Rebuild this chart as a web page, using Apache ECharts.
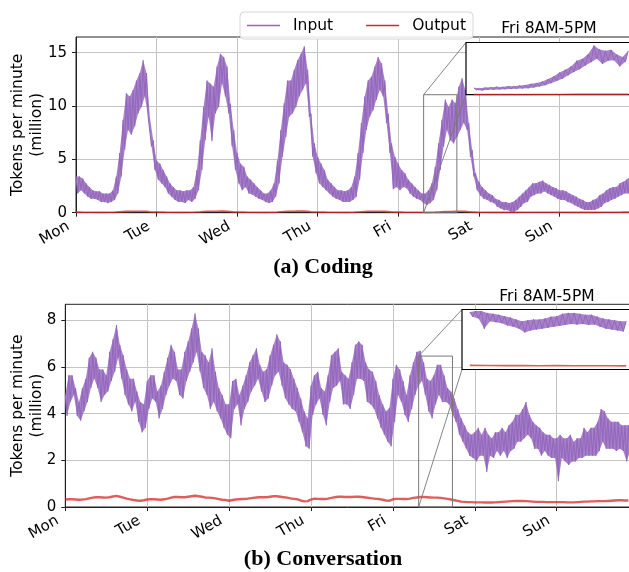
<!DOCTYPE html>
<html><head><meta charset="utf-8">
<script src="https://cdn.jsdelivr.net/npm/echarts@6/dist/echarts.min.js"></script>
<style>html,body{margin:0;padding:0;background:#fff}#c{width:629px;height:572px}</style>
</head><body><div id="c"></div>
<script>
// ---------- DATA ----------
const dayLabels = ['Mon','Tue','Wed','Thu','Fri','Sat','Sun'];
const dayTicks = [0,24,48,72,96,120,144];
const codingYTicks = [0,5,10,15];
const convYTicks = [0,2,4,6,8];
const insetTitle = 'Fri 8AM-5PM';
const insetDay = 4;            // Friday
const insetHours = [8, 17];    // 8AM-5PM

// Coding, input tokens (million/min), hourly upper / lower envelope of the noisy band, Mon 0h .. Sun 21h
const codingInHi = [
 3.4,3.4,3.2,2.75,2.4,2.1,2.0,2.0,1.8,1.8,1.8,2.1,3.4,5.6,8.7,11.2,10.9,11.5,12.4,13.1,14.3,13.1,9.0,6.8,
 4.9,4.6,4.0,3.4,2.75,2.4,2.1,2.1,2.0,2.1,2.1,2.4,4.0,6.8,9.9,12.4,12.1,11.8,13.7,14.9,14.6,13.7,10.2,7.75,
 5.6,4.6,4.3,3.4,3.1,2.75,2.4,2.1,1.8,1.8,2.1,2.75,4.9,7.75,10.25,12.4,12.4,13.4,14.3,14.9,15.6,13.4,9.3,6.5,
 5.25,4.6,4.0,3.1,2.75,2.4,2.1,2.1,2.0,2.1,2.4,3.4,5.6,8.4,10.9,12.4,12.75,13.7,14.6,14.0,12.4,9.3,6.5,5.25,
 4.6,4.0,3.7,3.1,2.75,2.4,2.1,1.8,1.8,2.1,2.75,4.3,6.5,8.7,10.6,9.9,10.6,10.25,11.8,12.6,11.5,8.4,5.9,3.7,
 2.9,2.4,2.1,1.8,1.65,1.3,1.2,1.0,1.0,0.9,1.0,1.2,1.5,1.8,2.1,2.4,2.75,2.75,2.9,3.0,2.75,2.6,2.4,2.3,
 2.1,2.1,2.0,1.8,1.65,1.5,1.3,1.2,1.0,1.0,1.2,1.3,1.65,1.8,2.1,2.3,2.4,2.4,2.75,2.9,3.1,3.4];
const codingInLo = [
 1.8,2.1,1.8,1.5,1.3,1.3,1.2,1.0,1.0,0.9,1.0,1.2,1.8,3.4,5.9,7.75,7.3,8.1,9.3,9.9,10.9,9.0,6.2,4.0,
 3.1,2.75,2.4,1.8,1.5,1.2,1.0,1.0,0.9,1.2,1.0,1.3,2.1,4.0,6.8,9.0,6.7,9.3,9.9,12.1,10.9,9.3,6.2,4.0,
 2.75,2.1,2.4,1.8,1.7,1.5,1.3,1.2,1.0,0.9,1.0,1.5,2.75,5.25,7.1,9.0,9.3,9.9,10.9,11.5,12.1,9.0,5.25,3.7,
 2.75,2.4,2.1,1.8,1.5,1.3,1.2,1.0,1.0,1.0,1.2,1.5,3.1,5.6,7.75,9.0,9.6,10.6,11.5,10.9,8.4,5.6,2.2,2.4,
 2.1,2.4,2.3,1.8,1.5,1.3,1.2,0.9,0.7,0.9,1.2,2.1,4.0,6.2,7.75,6.8,6.5,7.1,7.75,8.4,7.75,5.25,3.4,2.1,
 1.6,1.3,1.2,1.0,0.9,0.55,0.4,0.25,0.25,0.1,0.1,0.25,0.55,0.9,1.0,1.5,1.65,1.8,1.8,2.0,1.8,1.65,1.5,1.3,
 1.2,1.2,1.0,0.9,0.7,0.55,0.4,0.25,0.25,0.25,0.25,0.4,0.55,0.9,1.0,1.2,1.3,1.5,1.65,1.8,1.8,2.1];
// Coding, output tokens, hourly
const codingOut = [
 0.05,0.05,0.04,0.04,0.04,0.04,0.03,0.03,0.03,0.03,0.04,0.04,0.06,0.08,0.10,0.12,0.12,0.13,0.14,0.14,0.14,0.12,0.09,0.07,
 0.06,0.05,0.05,0.04,0.04,0.04,0.03,0.03,0.03,0.03,0.04,0.04,0.06,0.08,0.11,0.13,0.13,0.13,0.14,0.15,0.15,0.13,0.10,0.07,
 0.06,0.05,0.05,0.04,0.04,0.04,0.03,0.03,0.03,0.03,0.04,0.04,0.06,0.09,0.11,0.13,0.13,0.14,0.15,0.15,0.15,0.13,0.09,0.07,
 0.06,0.05,0.05,0.04,0.04,0.04,0.03,0.03,0.03,0.03,0.04,0.05,0.07,0.09,0.11,0.13,0.13,0.14,0.14,0.14,0.12,0.10,0.07,0.06,
 0.05,0.05,0.04,0.04,0.04,0.04,0.03,0.03,0.03,0.03,0.04,0.05,0.07,0.09,0.11,0.11,0.11,0.12,0.13,0.13,0.12,0.09,0.06,0.05,
 0.04,0.04,0.04,0.03,0.03,0.03,0.03,0.03,0.03,0.03,0.03,0.03,0.03,0.04,0.04,0.04,0.04,0.04,0.04,0.04,0.04,0.04,0.04,0.04,
 0.04,0.04,0.03,0.03,0.03,0.03,0.03,0.03,0.03,0.03,0.03,0.03,0.03,0.04,0.04,0.04,0.04,0.04,0.04,0.05,0.05,0.05];
// Conversation, input tokens, hourly upper / lower envelope
const convInHi = [
 4.8,5.65,5.65,5.1,4.5,5.1,5.5,6.4,6.65,6.4,5.9,5.9,5.65,6.65,7.2,7.8,6.95,6.5,5.9,5.5,5.5,4.95,4.5,4.4,
 5.4,5.65,5.65,4.95,5.2,5.8,6.4,6.95,6.65,5.9,5.9,6.65,7.1,7.65,8.3,7.65,6.65,6.5,6.2,6.8,5.8,5.1,4.8,4.4,
 4.4,5.4,5.5,4.8,5.2,5.65,6.2,6.5,6.8,6.1,5.8,5.9,6.5,6.95,7.4,7.1,6.2,6.1,5.9,5.5,5.1,4.65,4.1,3.8,
 5.2,5.65,5.8,5.1,4.95,5.65,6.5,6.65,6.8,5.8,5.65,5.5,6.2,6.95,7.1,6.95,6.2,5.9,5.8,5.4,4.8,4.4,4.1,4.25,
 5.5,6.1,5.9,5.4,4.8,5.65,6.2,6.65,6.7,6.2,5.5,5.4,5.65,6.1,6.1,5.65,5.1,4.95,4.65,4.2,3.8,3.5,3.2,3.1,
 3.2,3.4,3.1,3.4,3.1,2.95,3.2,3.2,3.4,3.2,3.5,3.65,3.95,3.95,4.2,4.5,3.95,3.65,3.5,3.4,3.2,3.1,3.1,2.95,
 2.95,3.1,2.95,2.95,3.1,2.8,2.95,2.95,3.4,3.2,3.4,3.4,3.65,4.2,4.1,3.8,3.65,3.65,3.65,3.5,3.5,3.5];
const convInLo = [
 3.9,4.5,4.8,3.9,3.7,4.1,4.5,5.1,5.5,5.1,4.5,4.8,4.95,5.4,5.8,6.4,5.5,4.8,4.4,4.1,4.5,3.65,3.2,3.4,
 4.2,4.65,4.5,3.8,4.2,4.8,5.2,5.5,5.4,4.8,4.65,5.4,5.8,6.2,6.65,5.8,5.1,4.8,4.2,4.5,4.1,3.8,3.4,3.1,
 2.95,4.2,4.4,3.5,4.2,4.5,4.95,5.2,5.5,4.95,4.5,4.65,5.2,5.65,5.8,5.2,4.65,4.4,4.2,4.1,3.65,3.2,2.6,2.5,
 3.95,4.4,4.65,3.95,3.5,4.5,5.1,5.2,5.4,4.4,4.4,4.2,4.8,5.5,5.5,5.4,4.5,4.4,4.2,3.8,3.4,3.1,2.8,2.6,
 3.65,4.8,4.5,3.95,3.65,4.2,4.8,5.2,5.4,4.8,4.1,3.8,4.4,4.8,4.5,4.5,4.4,3.95,3.65,3.1,2.8,2.5,2.2,2.1,
 1.95,2.2,2.2,1.5,2.2,2.1,2.4,2.2,2.4,2.1,2.4,2.5,2.8,2.8,2.95,3.1,2.95,2.5,2.5,2.2,2.4,2.2,2.1,2.1,
 1.1,2.1,1.95,1.8,1.95,1.95,2.1,2.1,2.2,2.2,2.2,2.2,2.4,2.8,2.5,2.5,2.5,2.4,2.5,2.4,1.95,2.4];
// Conversation, output tokens, hourly
const convOut = [
 0.32,0.33,0.33,0.32,0.31,0.32,0.34,0.37,0.40,0.42,0.42,0.41,0.40,0.42,0.45,0.48,0.44,0.40,0.36,0.33,0.30,0.28,0.27,0.29,
 0.32,0.33,0.33,0.32,0.31,0.33,0.36,0.40,0.43,0.43,0.42,0.42,0.44,0.46,0.48,0.46,0.44,0.41,0.40,0.39,0.37,0.34,0.31,0.30,
 0.27,0.30,0.32,0.33,0.34,0.35,0.37,0.39,0.41,0.42,0.42,0.42,0.44,0.46,0.46,0.44,0.42,0.40,0.37,0.35,0.33,0.28,0.24,0.25,
 0.32,0.36,0.35,0.34,0.34,0.36,0.39,0.42,0.44,0.44,0.43,0.43,0.43,0.44,0.44,0.43,0.41,0.39,0.37,0.35,0.34,0.31,0.28,0.27,
 0.33,0.35,0.35,0.34,0.34,0.36,0.39,0.41,0.43,0.43,0.42,0.41,0.40,0.40,0.39,0.37,0.35,0.32,0.29,0.26,0.23,0.22,0.21,0.21,
 0.20,0.20,0.20,0.19,0.19,0.19,0.20,0.21,0.22,0.23,0.24,0.25,0.26,0.26,0.26,0.25,0.24,0.23,0.22,0.22,0.22,0.21,0.21,0.21,
 0.21,0.21,0.21,0.20,0.20,0.20,0.21,0.22,0.23,0.23,0.24,0.24,0.25,0.25,0.25,0.26,0.27,0.28,0.29,0.29,0.28,0.28];
// Insets: Friday 8:00-17:00, upper / lower envelope every 20 minutes
const codingInsetHi = [1.45,1.35,1.5,1.6,1.7,1.65,1.85,1.8,1.95,2.05,2.3,2.5,2.8,3.3,3.9,4.7,5.3,6.0,7.2,7.6,8.6,10.4,9.6,9.3,9.5,8.5,8.0,9.3];
const codingInsetLo = [1.0,0.9,1.05,1.05,1.1,1.15,1.2,1.25,1.3,1.35,1.5,1.75,2.0,2.45,2.9,3.4,4.1,4.8,5.4,6.2,6.9,7.6,6.5,7.2,7.3,6.0,7.0];
const codingInsetOut = [0.05,0.05,0.05,0.05,0.06,0.07,0.08,0.09,0.09,0.10];
const convInsetHi = [6.2,6.3,6.3,6.1,6.0,5.9,5.75,5.6,5.4,5.2,5.3,5.4,5.4,5.5,5.7,5.75,6.0,6.1,6.1,6.0,5.9,5.9,5.7,5.5,5.4,5.3,5.2,5.2];
const convInsetLo = [5.7,5.5,4.4,5.2,5.1,5.0,4.75,4.6,4.4,4.0,4.2,4.3,4.4,4.5,4.6,4.7,4.8,4.9,4.85,4.9,4.8,4.85,4.6,4.4,4.3,4.2,4.1];
const convInsetOut = [0.44,0.43,0.42,0.42,0.41,0.42,0.41,0.40,0.40,0.39];
const codingInsetYMax = 11.06, convInsetYMax = 6.47;
const codingYMax = 16.47, convYMax = 8.69;

// ---------- BUILD ----------
const PURPLE = '#9467bd', RED = '#d62728';
const FONT = 'DejaVu Sans';
function zig(hi, lo, start, step) {
  const o = [];
  for (let i = 0; i < hi.length; i++) { o.push([start + i * step, hi[i]]); if (i < lo.length) o.push([start + (i + 0.5) * step, lo[i]]); }
  return o;
}
function hourly(v, start) { return v.map((y, i) => [start + i, y]); }
const pad = (insetHours[1] - insetHours[0]) * 0.05;
const inMin = insetHours[0] - pad, inMax = insetHours[1] + pad;

// filled band polygon between upper / lower envelopes, placed with the axis scales (api.coord)
function bandFill(idx, hi, lo, start, step, z) {
  return { type: 'custom', xAxisIndex: idx, yAxisIndex: idx, z: z, silent: true, clip: true, animation: false,
    data: [[start, 0]],
    renderItem: function (params, api) {
      const pts = [];
      for (let i = 0; i < hi.length; i++) pts.push(api.coord([start + i * step, hi[i]]));
      for (let i = lo.length - 1; i >= 0; i--) pts.push(api.coord([start + (i + 0.5) * step, lo[i]]));
      return { type: 'polygon', shape: { points: pts }, style: { fill: PURPLE, opacity: 0.82 } };
    } };
}

const gridLine = { show: true, lineStyle: { color: '#c4c4c4', width: 1 } };
function mainX(grid) {
  return { type: 'value', gridIndex: grid, min: 0, max: 168, interval: 24,
    axisLine: { show: true, lineStyle: { color: '#222', width: 1 } },
    axisTick: { show: true, length: 4, lineStyle: { color: '#222' } },
    axisLabel: { rotate: 30, margin: 8, fontSize: 15, color: '#000', fontFamily: FONT, padding: [0, 9, 0, 0],
      customValues: dayTicks, formatter: v => dayLabels[Math.round(v / 24)] || '' },
    splitLine: gridLine };
}
function mainY(grid, max, iv, ticks, gap) {
  return { type: 'value', gridIndex: grid, min: 0, max: max, interval: iv,
    name: 'Tokens per minute\n(million)', nameLocation: 'middle', nameRotate: 90, nameGap: gap, nameMoveOverlap: false,
    nameTextStyle: { fontSize: 15.5, color: '#000', fontFamily: FONT, lineHeight: 18.5, align: 'center' },
    axisLine: { show: true, lineStyle: { color: '#222', width: 1 } },
    axisTick: { show: true, length: 4, customValues: ticks, lineStyle: { color: '#222' } },
    axisLabel: { margin: 9, fontSize: 15, color: '#000', fontFamily: FONT, customValues: ticks },
    splitLine: gridLine };
}
function insetX(grid) { return { type: 'value', gridIndex: grid, min: inMin, max: inMax, show: false, splitLine: { show: false } }; }
function insetY(grid, max) { return { type: 'value', gridIndex: grid, min: 0, max: max, show: false, splitLine: { show: false } }; }
function line(name, idx, data, color, w, z, op) {
  return { type: 'line', name: name, xAxisIndex: idx, yAxisIndex: idx, data: data, symbol: 'none', z: z,
    color: color, itemStyle: { color: color }, lineStyle: { color: color, width: w, opacity: op, join: 'bevel' },
    animation: false, silent: true };
}
const titleStyle = { fontSize: 15.5, fontWeight: 'normal', fontFamily: FONT, color: '#000' };
const capStyle = { fontSize: 22, fontWeight: 'bold', fontFamily: 'Liberation Serif', color: '#000' };
const gridBase = { show: true, outerBoundsMode: 'none', containLabel: false };

const option = {
  backgroundColor: '#fff',
  animation: false,
  title: [
    { text: insetTitle, left: 549, top: 21, textAlign: 'center', padding: 0, textStyle: titleStyle },
    { text: insetTitle, left: 547, top: 289, textAlign: 'center', padding: 0, textStyle: titleStyle },
    { text: '(a) Coding', left: 323, top: 256, textAlign: 'center', padding: 0, textStyle: capStyle },
    { text: '(b) Conversation', left: 323, top: 548, textAlign: 'center', padding: 0, textStyle: capStyle }
  ],
  legend: { data: ['Input', 'Output'], left: 240, top: 12, icon: 'rect', itemWidth: 33, itemHeight: 1.6,
    itemGap: 33, padding: [4, 7, 4, 7], borderColor: '#d6d6d6', borderWidth: 1, borderRadius: 4,
    backgroundColor: 'rgba(255,255,255,0.85)', z: 20,
    textStyle: { fontSize: 15.5, color: '#000', fontFamily: FONT, padding: [0, 0, 0, 8], lineHeight: 19 } },
  grid: [
    Object.assign({ left: 76, top: 37, width: 564, height: 175.7, borderColor: '#222', borderWidth: 1, backgroundColor: 'transparent' }, gridBase),
    Object.assign({ left: 466, top: 42.5, width: 170, height: 52.2, borderColor: '#000', borderWidth: 1.2, backgroundColor: '#fff', z: 10 }, gridBase),
    Object.assign({ left: 65.3, top: 304.3, width: 573.3, height: 202.7, borderColor: '#222', borderWidth: 1, backgroundColor: 'transparent' }, gridBase),
    Object.assign({ left: 462, top: 309.5, width: 172, height: 60, borderColor: '#000', borderWidth: 1.2, backgroundColor: '#fff', z: 10 }, gridBase)
  ],
  xAxis: [mainX(0), insetX(1), mainX(2), insetX(3)],
  yAxis: [mainY(0, codingYMax, 5, codingYTicks, 30), insetY(1, codingInsetYMax),
          mainY(2, convYMax, 2, convYTicks, 19.5), insetY(3, convInsetYMax)],
  series: [
    bandFill(0, codingInHi, codingInLo, 0, 1, 2),
    line('Input', 0, zig(codingInHi, codingInLo, 0, 1), PURPLE, 1.1, 2, 1),
    line('Output', 0, hourly(codingOut, 0), RED, 1.6, 3, 0.8),
    bandFill(1, codingInsetHi, codingInsetLo, insetHours[0], 1 / 3, 12),
    line('Input', 1, zig(codingInsetHi, codingInsetLo, insetHours[0], 1 / 3), PURPLE, 1, 12, 1),
    line('Output', 1, hourly(codingInsetOut, insetHours[0]), RED, 1.4, 13, 0.8),
    bandFill(2, convInHi, convInLo, 0, 1, 2),
    line('Input', 2, zig(convInHi, convInLo, 0, 1), PURPLE, 1.1, 2, 1),
    line('Output', 2, hourly(convOut, 0), RED, 2.4, 3, 0.75),
    bandFill(3, convInsetHi, convInsetLo, insetHours[0], 1 / 3, 12),
    line('Input', 3, zig(convInsetHi, convInsetLo, insetHours[0], 1 / 3), PURPLE, 1, 12, 1),
    line('Output', 3, hourly(convInsetOut, insetHours[0]), RED, 1.6, 13, 0.75)
  ]
};
const chart = echarts.init(document.getElementById('c'), null, { renderer: 'canvas' });
chart.setOption(option);

// mark_inset: source rectangle + connectors, positioned through the axes
function insetMarks(mainIdx, insIdx, yMax) {
  const m = { xAxisIndex: mainIdx, yAxisIndex: mainIdx }, s = { xAxisIndex: insIdx, yAxisIndex: insIdx };
  const a = chart.convertToPixel(m, [insetDay * 24 + inMin, yMax]);
  const b = chart.convertToPixel(m, [insetDay * 24 + inMax, 0]);
  const c = chart.convertToPixel(s, [inMin, yMax]);
  const d = chart.convertToPixel(s, [inMin, 0]);
  const st = { stroke: '#777', lineWidth: 1, fill: null };
  return [
    { type: 'rect', z: 8, silent: true, shape: { x: a[0], y: a[1], width: b[0] - a[0], height: b[1] - a[1] }, style: st },
    { type: 'line', z: 8, silent: true, shape: { x1: a[0], y1: a[1], x2: c[0], y2: c[1] }, style: { stroke: '#777', lineWidth: 0.9 } },
    { type: 'line', z: 8, silent: true, shape: { x1: a[0], y1: b[1], x2: d[0], y2: d[1] }, style: { stroke: '#777', lineWidth: 0.9 } }
  ];
}
chart.setOption({ graphic: insetMarks(0, 1, codingInsetYMax).concat(insetMarks(2, 3, convInsetYMax)) });
</script></body></html>
